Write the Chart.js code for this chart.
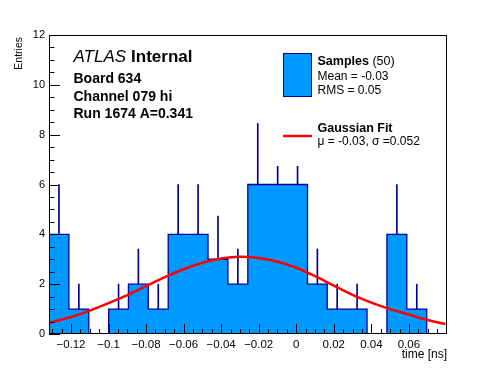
<!DOCTYPE html>
<html>
<head>
<meta charset="utf-8">
<script src="https://cdn.jsdelivr.net/npm/chart.js@4/dist/chart.umd.min.js"></script>
<style>
  body { margin: 0; background: #fff; }
  #wrap { width: 496px; height: 372px; }
</style>
</head>
<body>
<div id="wrap"><canvas id="chart" width="496" height="372"></canvas></div>
<script>
// histogram bins (time [ns])
const binEdges = [
  -0.1317, -0.1211, -0.1105, -0.0999, -0.0894, -0.0788, -0.0682, -0.0576,
  -0.047, -0.0364, -0.0258, -0.0152, -0.0046, 0.006, 0.0165, 0.0271,
  0.0377, 0.0483, 0.0589, 0.0695, 0.0803,
];
const counts = [4, 1, 0, 1, 2, 1, 4, 4, 3, 2, 6, 6, 6, 2, 1, 1, 0, 4, 1, 0];
const errorTops = [6, 2, 0, 2, 3.41, 2, 6, 6, 4.73, 3.41, 8.45, 8.45, 8.45, 3.41, 2, 2, 0, 6, 2, 0];

// gaussian fit curve
const fitX = [
  -0.1317, -0.12, -0.11, -0.1, -0.09, -0.08, -0.07, -0.06, -0.05, -0.04, -0.03,
  -0.02, -0.01, 0, 0.01, 0.02, 0.03, 0.04, 0.05, 0.06, 0.07, 0.0795,
];
const fitY = [
  0.45, 0.68, 0.94, 1.24, 1.56, 1.92, 2.28, 2.6, 2.86, 3.03, 3.1,
  3.05, 2.9, 2.66, 2.32, 1.94, 1.57, 1.26, 1.0, 0.78, 0.56, 0.4,
];

const xTicks = [-0.12, -0.1, -0.08, -0.06, -0.04, -0.02, 0, 0.02, 0.04, 0.06];
const yTicks = [0, 2, 4, 6, 8, 10, 12];

const fillBlue = "#0099ff";
const lineBlue = "#000099";
const fitRed = "#ff0000";
const font = "'Liberation Sans', Arial, Helvetica, sans-serif";

const histPoints = binEdges.map((x, i) => ({
  x: x,
  y: counts[Math.min(i, counts.length - 1)],
}));

const errorBars = [];
counts.forEach((c, i) => {
  if (c > 0) {
    errorBars.push({ x: (binEdges[i] + binEdges[i + 1]) / 2, y: [c, errorTops[i]] });
  }
});

const fitPoints = fitX.map((x, i) => ({ x: x, y: fitY[i] }));

const txt = (ctx, s, x, y, size, weight, align, style) => {
  ctx.font = (style || "normal") + " " + (weight || "normal") + " " + size + "px " + font;
  ctx.textAlign = align || "left";
  ctx.textBaseline = "middle";
  ctx.fillText(s, x, y);
  return ctx.measureText(s).width;
};

const rootFrame = {
  id: "rootFrame",
  afterDatasetsDraw(chart) {
    const ctx = chart.ctx;
    const a = chart.chartArea;
    const xs = chart.scales.x;
    const ys = chart.scales.y;
    ctx.save();

    // legend box (white, hides what is under it)
    ctx.fillStyle = "#fff";
    ctx.fillRect(271, 44, a.right - 272, 122);
    ctx.fillStyle = fillBlue;
    ctx.fillRect(283.5, 53.5, 28, 43);
    ctx.strokeStyle = lineBlue;
    ctx.lineWidth = 1;
    ctx.strokeRect(283.5, 53.5, 28, 43);
    ctx.strokeStyle = fitRed;
    ctx.lineWidth = 2.5;
    ctx.beginPath();
    ctx.moveTo(283, 136);
    ctx.lineTo(312, 136);
    ctx.stroke();

    ctx.fillStyle = "#000";
    const w = txt(ctx, "Samples", 317.5, 61.5, 12.5, "bold");
    txt(ctx, " (50)", 317.5 + w, 61.5, 12.5);
    txt(ctx, "Mean = -0.03", 317.5, 77, 12);
    txt(ctx, "RMS = 0.05", 317.5, 90.5, 12);
    txt(ctx, "Gaussian Fit", 317.5, 129, 12.5, "bold");
    txt(ctx, "\u03bc = -0.03, \u03c3 =0.052", 317.5, 141.5, 12);

    // frame
    ctx.strokeStyle = "#000";
    ctx.lineWidth = 1;
    ctx.strokeRect(a.left + 0.5, a.top + 0.5, a.right - a.left - 1, a.bottom - a.top - 1);

    // y ticks (inside)
    ctx.beginPath();
    for (let v = 0; v <= 12.001; v += 0.5) {
      const py = Math.round(ys.getPixelForValue(v)) + 0.5;
      const len = Math.abs(v % 2) < 0.001 ? 11 : 5.5;
      ctx.moveTo(a.left, py);
      ctx.lineTo(a.left + len, py);
    }
    // x ticks (inside)
    for (let i = -26; i <= 16; i++) {
      const v = i * 0.005;
      if (v < xs.min || v > xs.max) continue;
      const px = Math.round(xs.getPixelForValue(v)) + 0.5;
      const len = i % 4 === 0 ? 10 : 5;
      ctx.moveTo(px, a.bottom);
      ctx.lineTo(px, a.bottom - len);
    }
    ctx.stroke();

    yTicks.forEach((v) => txt(ctx, String(v), 45, ys.getPixelForValue(v), 11, "normal", "right"));
    xTicks.forEach((v) =>
      txt(ctx, String(v).replace("-", "\u2212"), xs.getPixelForValue(v), 344.5, 11.5, "normal", "center")
    );

    txt(ctx, "time [ns]", a.right, 355, 12, "normal", "right");
    ctx.save();
    ctx.translate(19.5, 37);
    ctx.rotate(-Math.PI / 2);
    txt(ctx, "Entries", 0, 0, 10.5, "normal", "right");
    ctx.restore();

    // header text
    const w2 = txt(ctx, "ATLAS", 73.5, 57.5, 17, "normal", "left", "italic");
    txt(ctx, "Internal", 73.5 + w2 + 5, 57.5, 17, "bold");
    txt(ctx, "Board 634", 73.5, 79.5, 14, "bold");
    txt(ctx, "Channel 079 hi", 73.5, 97.5, 14, "bold");
    txt(ctx, "Run 1674 A=0.341", 73.5, 114.5, 14, "bold");

    ctx.restore();
  },
};

new Chart(document.getElementById("chart"), {
  type: "line",
  data: {
    datasets: [
      {
        type: "line",
        data: fitPoints,
        borderColor: fitRed,
        borderWidth: 2.5,
        pointRadius: 0,
        fill: false,
        cubicInterpolationMode: "monotone",
        order: 0,
      },
      {
        type: "bar",
        data: errorBars,
        backgroundColor: lineBlue,
        borderWidth: 0,
        barThickness: 1,
        order: 1,
      },
      {
        type: "line",
        data: histPoints,
        stepped: "before",
        fill: "origin",
        backgroundColor: fillBlue,
        borderColor: lineBlue,
        borderWidth: 1.3,
        pointRadius: 0,
        order: 2,
      },
    ],
  },
  options: {
    responsive: false,
    animation: false,
    layout: { padding: { left: 49, right: 49, top: 35, bottom: 38 } },
    plugins: {
      legend: { display: false },
      tooltip: { enabled: false },
    },
    scales: {
      x: {
        type: "linear",
        offset: false,
        min: binEdges[0],
        max: binEdges[binEdges.length - 1],
        display: false,
      },
      y: { type: "linear", min: 0, max: 12, display: false },
    },
  },
  plugins: [rootFrame],
});
</script>
</body>
</html>
